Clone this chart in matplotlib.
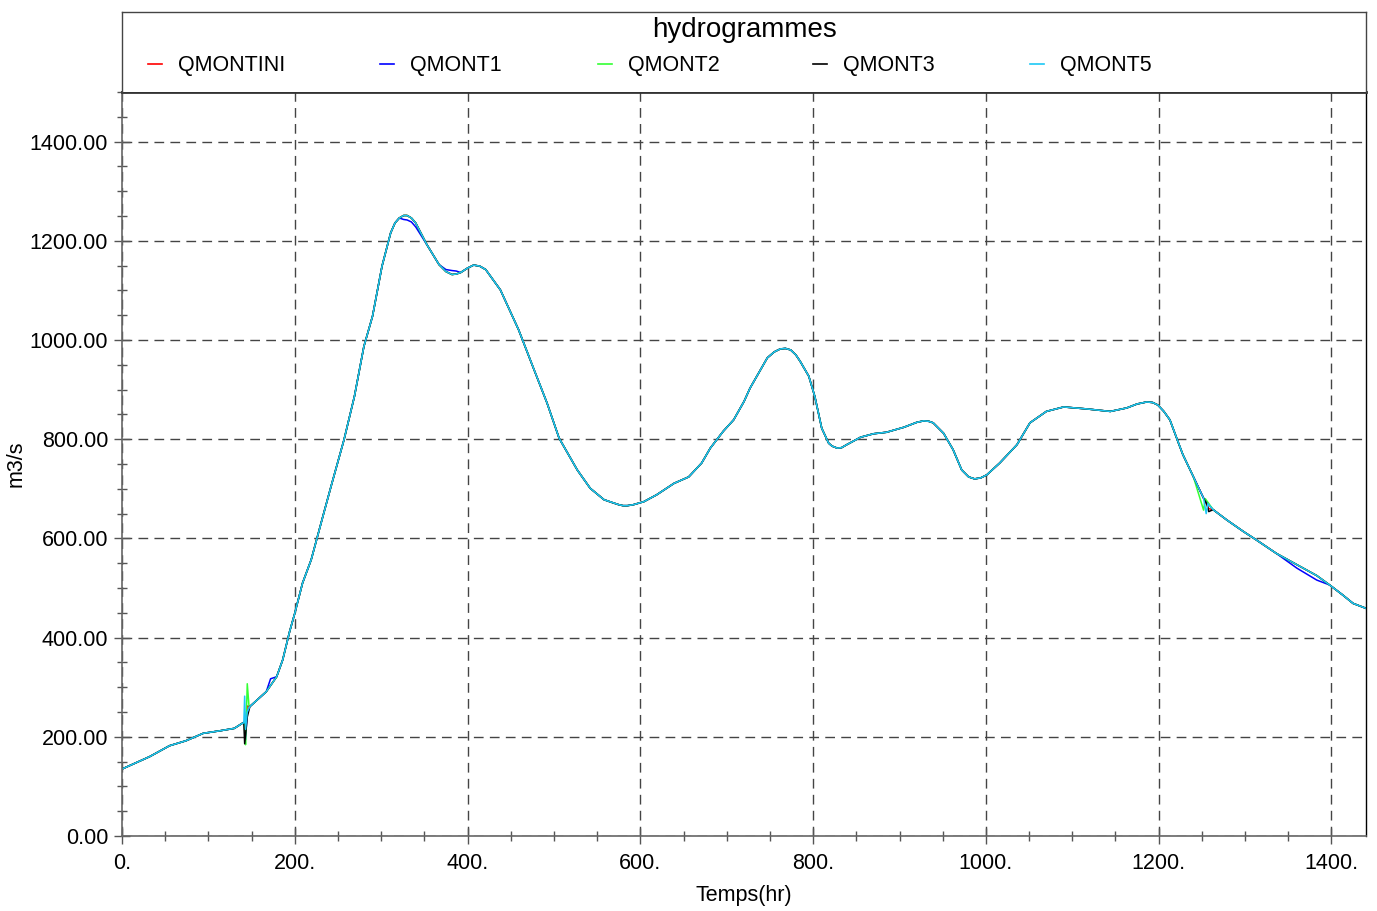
"""Hydrogrammes QMONT* - recreation with matplotlib."""

import matplotlib
matplotlib.use("Agg")
import matplotlib.pyplot as plt
from matplotlib.ticker import MultipleLocator, FuncFormatter

plt.rcParams["font.family"] = ["Liberation Sans", "DejaVu Sans"]

# common hydrograph (time in hours, flow in m3/s)
t_base = [0, 32, 55, 74, 94, 113, 130, 139, 148, 167, 179, 186, 194, 200,
          209, 219, 232, 242, 257, 269, 280, 290, 301, 311, 316, 321, 326,
          330, 335, 340, 353, 367, 375, 382, 387, 392, 400, 407, 414, 421,
          438, 459, 477, 492, 506, 527, 542, 558, 568, 575, 580, 585, 592,
          604, 619, 639, 656, 671, 681, 696, 708, 720, 727, 747, 755, 762,
          768, 774, 780, 785, 795, 802, 810, 818, 822, 828, 833, 839, 855,
          870, 885, 905, 920, 928, 934, 939, 951, 962, 972, 980, 987, 994,
          1001, 1016, 1036, 1051, 1070, 1090, 1117, 1144, 1163, 1175, 1186,
          1193, 1199, 1206, 1213, 1223, 1228, 1240, 1252, 1263, 1279, 1298,
          1313, 1336, 1360, 1383, 1398, 1413, 1425, 1440]
q_base = [135, 160, 182, 192, 207, 212, 217, 227, 261, 291, 321, 355, 412,
          449, 510, 557, 641, 705, 799, 886, 987, 1048, 1149, 1216, 1236,
          1246, 1251, 1251, 1246, 1236, 1192, 1152, 1138, 1132, 1133, 1136,
          1145, 1151, 1149, 1142, 1101, 1021, 940, 873, 802, 738, 701, 678,
          672, 668, 666, 666, 668, 674, 688, 711, 724, 752, 782, 816, 839,
          876, 903, 964, 976, 982, 983, 980, 970, 957, 927, 886, 822, 792,
          786, 782, 783, 789, 804, 811, 814, 824, 834, 837, 836, 833, 812,
          779, 738, 724, 720, 722, 728, 752, 789, 833, 856, 865, 861, 856,
          863, 871, 875, 874, 869, 856, 839, 792, 769, 725, 681, 658, 637,
          614, 597, 570, 547, 525, 506, 486, 469, 459]

# local differences of each run (spikes, small offsets)
extra_qmontini = {143: 232, 145: 262, 1258: 660}
extra_qmont1 = {142: 230, 143: 194, 145: 250, 172: 317, 326: 1243,
                330: 1242, 335: 1238, 340: 1228, 375: 1142, 382: 1140,
                387: 1139, 1360: 540, 1383: 516}
extra_qmont2 = {142: 228, 143: 184, 145: 307, 147: 262, 1252: 657,
                1254: 680}
extra_qmont3 = {141: 228, 142: 186, 145: 240, 1256: 668, 1258: 654}
extra_qmont5 = {141: 228, 142: 282, 143: 215, 145: 250, 1255: 650,
                1257: 670}

series_names = ["QMONTINI", "QMONT1", "QMONT2", "QMONT3", "QMONT5"]
series_extras = [extra_qmontini, extra_qmont1, extra_qmont2, extra_qmont3,
                 extra_qmont5]
colors = ["#ff0000", "#0000ff", "#33ff33", "#000000", "#1ec8f5"]

fig = plt.figure(figsize=(13.77, 9.11), dpi=100)
W, H = 1377, 911

# main axes
ax = fig.add_axes([122 / W, 1 - 836 / H, (1366 - 122) / W, (836 - 92) / H])

for name, extra, col in zip(series_names, series_extras, colors):
    d = dict(zip(t_base, q_base))
    d.update(extra)
    tt = sorted(d)
    ax.plot(tt, [d[k] for k in tt], color=col, lw=1.1, label=name)

ax.set_xlim(0, 1440)
ax.set_ylim(0, 1500)
ax.xaxis.set_major_locator(MultipleLocator(200))
ax.xaxis.set_minor_locator(MultipleLocator(50))
ax.yaxis.set_major_locator(MultipleLocator(200))
ax.yaxis.set_minor_locator(MultipleLocator(50))
ax.xaxis.set_major_formatter(FuncFormatter(lambda v, p: f"{v:.0f}."))
ax.yaxis.set_major_formatter(
    FuncFormatter(lambda v, p: f"{v:.2f}" if v <= 1400 else ""))
ax.tick_params(which="major", direction="inout", length=12, width=1,
               color="#555555", labelsize=15.5, pad=4)
ax.tick_params(which="minor", direction="inout", length=7, width=1,
               color="#555555")
ax.tick_params(axis="x", which="major", pad=6)

ax.grid(True, which="major", color="#444444", lw=1.0,
        linestyle=(0, (7, 4.5)))

for side in ["left", "bottom"]:
    ax.spines[side].set_color("#666666")
    ax.spines[side].set_linewidth(1.2)
ax.spines["right"].set_color("#000000")
ax.spines["right"].set_linewidth(1.0)
ax.spines["top"].set_color("#333333")
ax.spines["top"].set_linewidth(2.0)

ax.set_xlabel("Temps(hr)", fontsize=15.5, labelpad=8)
ax.set_ylabel("m3/s", fontsize=15.5, labelpad=2)

# header box with title and legend
hx = fig.add_axes([122 / W, 1 - 92 / H, (1366 - 122) / W, (92 - 12) / H])
hx.set_xlim(122, 1366)
hx.set_ylim(92, 12)
hx.set_xticks([])
hx.set_yticks([])
for side in ["left", "right", "top"]:
    hx.spines[side].set_color("#444444")
    hx.spines[side].set_linewidth(1.0)
hx.spines["bottom"].set_visible(False)

hx.text(744, 30, "hydrogrammes", fontsize=20, ha="center", va="center")
legend_x = [178, 410, 628, 843, 1060]
for name, col, x0 in zip(series_names, colors, legend_x):
    hx.plot([x0 - 30, x0 - 16], [64, 64], color=col, lw=1.2)
    hx.text(x0, 66, name, fontsize=15.5, ha="left", va="center")

fig.savefig("out.png", dpi=100)
